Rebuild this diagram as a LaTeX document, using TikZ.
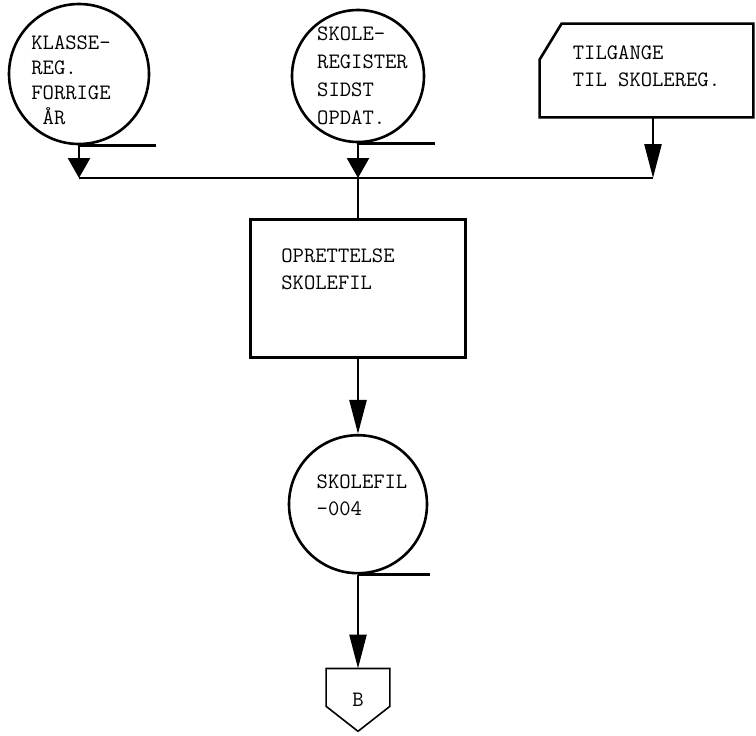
\documentclass[tikz,border=0pt]{standalone}
\usetikzlibrary{shapes.geometric, arrows.meta, positioning, calc}
\tikzstyle{typed} = [font=\ttfamily\fontsize{11}{13.5}\selectfont, align=left, inner sep=0pt]
\tikzstyle{datafile} = [circle, draw=black, line width=1.3pt, inner sep=0pt]
\tikzstyle{process} = [rectangle, draw=black, line width=1.3pt, minimum width=107.5pt, minimum height=69pt]
\tikzstyle{input} = [rectangle, minimum width=106.5pt, minimum height=46.5pt, inner sep=0pt]
\tikzstyle{offpage} = [rectangle, minimum width=31.5pt, minimum height=31pt, typed]
\tikzstyle{line} = [line width=1.3pt]
\tikzstyle{thinline} = [line width=0.8pt]
\tikzstyle{busarrow} = [line width=1.3pt,-{Triangle[length=10pt,width=11pt]}]
\tikzstyle{arrow} = [line width=1.3pt,-{Triangle[length=17pt,width=8.5pt]}]

\begin{document}
\begin{tikzpicture}[x=0.5pt, y=-0.5pt, node distance=37.5pt]
\useasboundingbox (0,0) rectangle (756,735);

% Inputs
\node (klasse) [datafile, minimum size=70pt] at (79,74) {};
\node (klassetxt) [typed, font=\ttfamily\fontsize{11}{12.5}\selectfont] at ($(klasse.center)+(-8,6.5)$) {KLASSE-\\REG.\\FORRIGE\\~ÅR};
\node (skolereg) [datafile, minimum size=66pt] at (358,76) {};
\node (skoleregtxt) [typed, font=\ttfamily\fontsize{11}{14}\selectfont] at ($(skolereg.center)+(4.5,0)$) {SKOLE-\\REGISTER\\SIDST\\OPDAT.};
\node (tilgange) [input] at (646.5,70.5) {};
\node (tilgangetxt) [typed] at ($(tilgange.center)+(0,-4)$) {TILGANGE\\TIL SKOLEREG.};
\draw [line] (tilgange.north east) -- (tilgange.south east) -- (tilgange.south west)
  -- ($(tilgange.north west)+(0,36)$) -- ($(tilgange.north west)+(22,0)$) -- cycle;
\coordinate (tilgangeout) at ($(tilgange.south)+(6.5,0)$);

% Bus
\coordinate (bus) at (0,178);

% Process
\node (oprettelse) [process, below=of skolereg] {};
\node (oprettelsetxt) [typed] at ($(oprettelse.center)+(-20,-19.5)$) {OPRETTELSE\\SKOLEFIL};

% Output file
\node (skolefil) [datafile, minimum size=69pt, below=of oprettelse] {};
\node (skolefiltxt) [typed] at ($(skolefil.center)+(4,-9)$) {SKOLEFIL\\—004};

% Connector
\node (b) [offpage, below=47pt of skolefil] {B};
\draw [thinline] (b.north west) -- (b.north east) -- ($(b.south east)+(0,-25)$)
  -- (b.south) -- ($(b.south west)+(0,-25)$) -- cycle;

% Tails
\draw [line] (klasse.south) -- ++(77,0);
\draw [line] (skolereg.south) -- ++(77,0);
\draw [line] (skolefil.south) -- ++(72,0);

% Arrows
\draw [line] (klasse.south |- bus) -- (tilgangeout |- bus);
\draw [busarrow] (klasse.south) -- (klasse.south |- bus);
\draw [busarrow] (skolereg.south) -- (skolereg.south |- bus);
\draw [arrow] (tilgangeout) -- (tilgangeout |- bus);
\draw [line] (skolereg.south |- bus) -- (oprettelse.north);
\draw [arrow] (oprettelse) -- (skolefil);
\draw [arrow] (skolefil) -- (b);

\end{tikzpicture}
\end{document}
